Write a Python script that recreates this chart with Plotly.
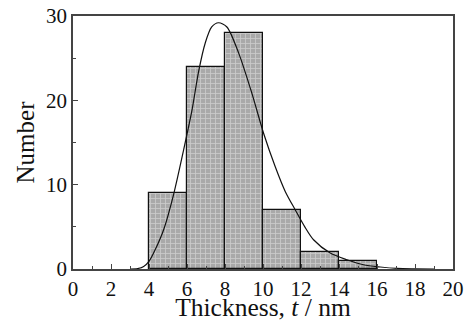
import plotly.graph_objects as go

# Histogram data
bin_centers = [5, 7, 9, 11, 13, 15]
counts = [9, 24, 28, 7, 2, 1]
bin_width = 2

# Fitted distribution curve
fit_x = [3.0, 3.4, 3.72, 4.0, 4.33, 4.77, 5.29, 5.82, 6.26, 6.61, 6.96, 7.3, 7.66,
         8.1, 8.72, 9.42, 10.03, 10.65, 11.17, 11.7, 12.2, 12.66, 13.54, 14.42,
         15.29, 16.17, 17.05, 18.0, 19.0]
fit_y = [0, 0.05, 0.3, 0.9, 2.3, 4.65, 8.8, 14.1, 18.8, 23.4, 26.8, 28.7, 29.2,
         28.7, 25.6, 20.8, 16.1, 12.1, 9.2, 7.0, 5.0, 3.47, 1.89, 1.1,
         0.5, 0.24, 0.07, 0.02, 0]

x_ticks = list(range(0, 21, 2))
y_ticks = [0, 10, 20, 30]

FONT = "Liberation Serif, Times New Roman, serif"

fig = go.Figure()
fig.add_trace(go.Bar(
    x=bin_centers, y=counts, width=bin_width,
    marker=dict(
        color="#b0b0b0",
        line=dict(color="#111111", width=1.2),
        pattern=dict(shape="+", fgcolor="#eeeeee", bgcolor="#a9a9a9", size=5, solidity=0.3),
    ),
    showlegend=False,
))
fig.add_trace(go.Scatter(
    x=fit_x, y=fit_y, mode="lines",
    line=dict(color="#111111", width=1.2, shape="spline", smoothing=0.8),
    showlegend=False,
))

axis_common = dict(
    showline=True, linecolor="#444444", linewidth=1.5, mirror=True,
    ticks="inside", ticklen=5, tickwidth=1, tickcolor="#444444",
    showgrid=False, zeroline=False, automargin=False,
    ticklabeloverflow="allow",
    tickfont=dict(family=FONT, size=21, color="#111111"),
)

fig.update_xaxes(
    range=[0, 20], tickvals=x_ticks,
    minor=dict(dtick=1, ticks="inside", ticklen=3, tickcolor="#444444"),
    title=dict(text="Thickness, <i>t</i> / nm", font=dict(family=FONT, size=25.5, color="#111111"), standoff=1),
    **axis_common,
)
fig.update_yaxes(
    range=[0, 30], tickvals=y_ticks,
    minor=dict(dtick=5, ticks="inside", ticklen=3, tickcolor="#444444"),
    title=dict(text="Number", font=dict(family=FONT, size=25, color="#111111"), standoff=4),
    **axis_common,
)

fig.update_layout(
    width=466, height=322,
    margin=dict(l=73, r=13, t=16, b=53),
    plot_bgcolor="white", paper_bgcolor="white",
    bargap=0,
)

# remove the browser's default 8px body margin so the figure fills the window exactly
fig.write_html("out.html", config={"displayModeBar": False},
               post_script="document.body.style.margin='0';")
